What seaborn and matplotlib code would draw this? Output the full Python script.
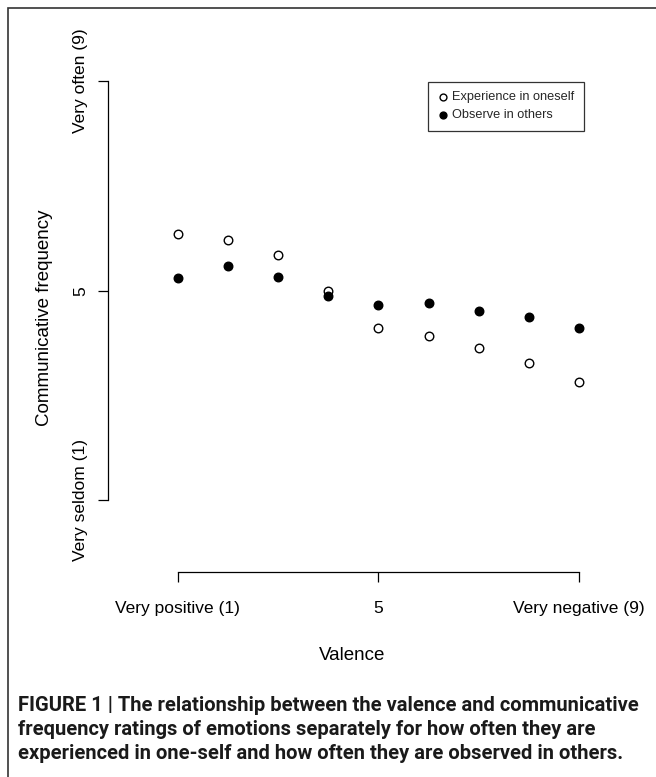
import matplotlib
matplotlib.use("Agg")
import matplotlib.pyplot as plt
import seaborn as sns
import pandas as pd
from matplotlib.patches import Rectangle

# ---- data ----
valence = [1, 2, 3, 4, 5, 6, 7, 8, 9]
experience_in_oneself = [6.09, 5.97, 5.68, 5.00, 4.28, 4.13, 3.90, 3.62, 3.25]
observe_in_others = [5.24, 5.47, 5.26, 4.90, 4.73, 4.76, 4.62, 4.49, 4.28]
x_tick_values = [1, 5, 9]
x_tick_labels = ["Very positive (1)", "5", "Very negative (9)"]
y_tick_values = [1, 5, 9]
y_tick_labels = ["Very seldom (1)", "5", "Very often (9)"]
series_names = ["Experience in oneself", "Observe in others"]
caption = ("FIGURE 1 | The relationship between the valence and communicative\n"
           "frequency ratings of emotions separately for how often they are\n"
           "experienced in one-self and how often they are observed in others.")

sns.set_theme(style="white")
plt.rcParams["font.family"] = ["Liberation Sans", "DejaVu Sans"]

W, H = 656, 777
dpi = 100
fig = plt.figure(figsize=(W / dpi, H / dpi), dpi=dpi)

# axes placed in pixel coordinates (left spine x=108, bottom spine y=572)
ax_left, ax_right, ax_top, ax_bottom = 108.3, 595.0, 64.0, 571.7
ax = fig.add_axes([ax_left / W, 1 - ax_bottom / H,
                   (ax_right - ax_left) / W, (ax_bottom - ax_top) / H])

df = pd.DataFrame({"valence": valence,
                   "exp": experience_in_oneself,
                   "obs": observe_in_others})

sns.scatterplot(data=df, x="valence", y="exp", ax=ax, s=38,
                facecolor="white", edgecolor="black", linewidth=1.0,
                label=series_names[0], zorder=3)
sns.scatterplot(data=df, x="valence", y="obs", ax=ax, s=38,
                color="black", edgecolor="black", linewidth=1.0,
                label=series_names[1], zorder=3)

# data-to-pixel: x 1->177.7, 9->579 ; y 1->500.3, 9->81
xpx = (579 - 177.7) / 8
ypx = (500.3 - 81) / 8
ax.set_xlim(1 - (177.7 - ax_left) / xpx, 9 + (ax_right - 579) / xpx)
ax.set_ylim(1 - (ax_bottom - 500.3) / ypx, 9 + (81 - ax_top) / ypx)

for s in ["top", "right"]:
    ax.spines[s].set_visible(False)
ax.spines["left"].set_bounds(1, 9)
ax.spines["bottom"].set_bounds(1, 9)
for s in ["left", "bottom"]:
    ax.spines[s].set_color("black")
    ax.spines[s].set_linewidth(0.9)

ax.set_xticks(x_tick_values)
ax.set_xticklabels(x_tick_labels, fontsize=12.5)
ax.set_yticks(y_tick_values)
ax.set_yticklabels(y_tick_labels, fontsize=12.5, rotation=90, va="center")
ax.tick_params(axis="both", which="major", direction="out", length=7.2, width=0.9,
               color="black", labelcolor="black", bottom=True, left=True)
ax.tick_params(axis="x", pad=14)
ax.tick_params(axis="y", pad=7.3)

ax.set_xlabel("Valence", fontsize=13.5, labelpad=22, color="black")
ax.set_ylabel("Communicative frequency", fontsize=13.5, labelpad=14.5, color="black")

leg = ax.legend(loc="upper left", bbox_to_anchor=((428.3 - ax_left) / (ax_right - ax_left),
                                                   1 - (81.7 - ax_top) / (ax_bottom - ax_top)),
                borderaxespad=0.0,
                fontsize=9.2, frameon=True, fancybox=False, edgecolor="black",
                handletextpad=0.3, borderpad=0.75, labelspacing=0.45,
                handlelength=0.8, markerscale=0.8)
leg.get_frame().set_linewidth(0.9)

# caption
fig.text(18 / W, 1 - 696 / H, caption, fontsize=14.5, fontweight="bold",
         family=["Roboto", "DejaVu Sans"], va="top", ha="left",
         linespacing=1.32, color="#1a1a1a")

# outer frame (open on right and bottom, as in the crop)
fig.patches.append(Rectangle((8 / W, -0.1), 1.2, 1.1 - 8 / H,
                             transform=fig.transFigure, fill=False,
                             edgecolor="#333333", linewidth=1.2))

fig.savefig("out.png", dpi=dpi)
